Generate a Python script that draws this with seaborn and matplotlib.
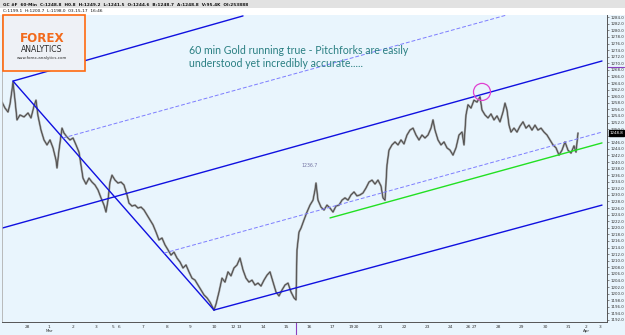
import matplotlib
matplotlib.use("Agg")
import matplotlib.pyplot as plt
from matplotlib.patches import Rectangle
import numpy as np
import pandas as pd
import seaborn as sns

# hourly gold closes (bar index ~ one per hour)
bars = [2, 5, 8, 10, 12, 13, 15, 17, 20, 24, 28, 31, 34, 36, 38, 41, 44, 47, 50, 53,
        56, 57, 59, 62, 64, 67, 70, 73, 76, 79, 81, 83, 86, 89, 92, 95, 98, 101, 104, 106,
        108, 110, 112, 115, 118, 121, 124, 127, 129, 132, 135, 138, 141, 144, 147, 150, 153, 156, 159, 162,
        165, 168, 171, 174, 177, 180, 183, 186, 189, 192, 195, 198, 201, 204, 207, 210, 212, 214, 216, 219,
        222, 225, 228, 231, 234, 237, 240, 243, 246, 249, 252, 255, 258, 261, 264, 267, 270, 273, 276, 279,
        282, 285, 288, 291, 294, 296, 297, 299, 301, 304, 307, 310, 313, 315, 316, 318, 321, 324, 327, 330,
        333, 336, 339, 342, 345, 348, 351, 354, 357, 360, 363, 366, 369, 372, 375, 378, 381, 383, 385, 387,
        389, 392, 395, 398, 401, 404, 407, 410, 413, 416, 419, 422, 425, 428, 431, 433, 435, 438, 441, 444,
        447, 450, 453, 456, 459, 462, 464, 466, 468, 471, 474, 477, 480, 482, 485, 488, 491, 494, 497, 500,
        503, 505, 507, 509, 511, 514, 517, 520, 523, 526, 529, 532, 535, 538, 541, 544, 547, 550, 553, 556,
        559, 562, 565, 568, 571, 574, 576, 578]
closes = [1258.2, 1256.4, 1255.2, 1257.6, 1261.9, 1264.3, 1258.8, 1252.8, 1254.3, 1253.7,
          1254.9, 1253.4, 1257.0, 1258.8, 1254.0, 1249.7, 1246.7, 1245.2, 1246.7, 1244.3,
          1240.6, 1238.2, 1243.6, 1250.3, 1248.8, 1247.6, 1246.7, 1247.3, 1245.2, 1243.0,
          1239.1, 1235.1, 1233.3, 1235.1, 1233.9, 1233.0, 1231.5, 1229.1, 1226.9, 1224.8,
          1228.4, 1233.9, 1236.0, 1234.5, 1233.6, 1233.9, 1233.0, 1230.0, 1227.5, 1226.6,
          1226.9, 1226.0, 1226.3, 1225.4, 1223.9, 1222.4, 1220.9, 1218.7, 1216.3, 1216.9,
          1214.8, 1213.3, 1211.7, 1212.6, 1210.8, 1209.6, 1207.8, 1208.7, 1206.6, 1204.7,
          1204.1, 1202.6, 1201.1, 1199.6, 1198.7, 1197.4, 1196.2, 1195.0, 1196.8, 1200.5,
          1204.7, 1203.5, 1206.6, 1205.4, 1207.8, 1208.7, 1210.8, 1207.2, 1204.7, 1203.5,
          1204.1, 1202.6, 1203.2, 1202.3, 1204.1, 1205.6, 1206.6, 1203.5, 1200.5, 1199.3,
          1201.1, 1202.6, 1203.2, 1200.5, 1198.7, 1198.1, 1213.3, 1218.7, 1219.9, 1222.4,
          1224.8, 1226.9, 1228.4, 1231.5, 1233.6, 1228.4, 1226.3, 1225.4, 1226.9, 1226.0,
          1224.8, 1226.6, 1226.9, 1228.4, 1229.1, 1228.4, 1230.0, 1230.9, 1229.7, 1230.0,
          1230.6, 1232.1, 1233.9, 1234.5, 1233.3, 1234.5, 1232.7, 1229.1, 1228.4, 1239.1,
          1243.6, 1245.2, 1246.1, 1245.2, 1246.7, 1245.5, 1248.2, 1249.7, 1250.3, 1248.2,
          1246.7, 1248.2, 1247.3, 1248.2, 1250.3, 1252.8, 1249.7, 1246.7, 1245.2, 1246.1,
          1244.3, 1243.6, 1242.1, 1244.3, 1248.2, 1249.1, 1245.2, 1254.3, 1257.4, 1256.4,
          1258.8, 1258.2, 1259.8, 1255.8, 1254.3, 1253.4, 1254.6, 1252.8, 1254.0, 1252.2,
          1255.2, 1257.9, 1255.8, 1251.2, 1249.1, 1250.3, 1249.1, 1250.9, 1252.2, 1250.3,
          1251.2, 1249.7, 1251.2, 1249.7, 1250.3, 1249.1, 1248.2, 1246.7, 1245.2, 1244.3,
          1242.1, 1243.6, 1246.1, 1243.6, 1242.7, 1244.9, 1243.0, 1248.8]

# pitchfork + trend lines: (bar0, price0, bar1, price1)
handle = (13, 1264.6, 214, 1195.0)
upper_tine = (13, 1264.6, 243, 1284.4)
median_tine = (2, 1219.9, 602, 1270.7)
lower_tine = (214, 1195.0, 602, 1226.9)
quarter_hi = (63, 1247.3, 507, 1284.7)
quarter_lo = (164, 1212.3, 602, 1249.1)
green_line = (330, 1223.0, 602, 1245.8)
circle_pt = (482, 1261.3)

day_ticks = [27, 49, 73, 96, 113, 119, 143, 167, 190, 214, 233, 239, 263, 286, 309,
             332, 351, 356, 380, 404, 427, 450, 468, 474, 498, 521, 545, 568, 586, 600]
day_labels = ['28', '1', '2', '3', '5', '6', '7', '8', '9', '10', '12', '13', '14', '15', '16',
              '17', '19', '20', '21', '22', '23', '24', '26', '27', '28', '29', '30', '31', '2', '3']
price_ticks = np.arange(1192, 1285, 2)
last_price = 1248.8

W, H = 625, 335
bg = '#e9f5fd'
sns.set_style('white')
plt.rcParams['font.family'] = ['DejaVu Sans']

fig = plt.figure(figsize=(W / 100, H / 100), dpi=100, facecolor=bg)
ax = fig.add_axes([2 / W, 13 / H, 605 / W, 307 / H])
ax.set_facecolor(bg)

df = pd.DataFrame({'bar': bars, 'close': closes})
sns.lineplot(data=df, x='bar', y='close', ax=ax, color='#999999', lw=1.5,
             sort=False, estimator=None)
sns.lineplot(data=df, x='bar', y='close', ax=ax, color='#333333', lw=0.45,
             sort=False, estimator=None)

def seg(line, **kw):
    ax.plot([line[0], line[2]], [line[1], line[3]], **kw)

blue = '#1010e0'
for ln in (handle, upper_tine, median_tine, lower_tine):
    seg(ln, color=blue, lw=1.0)
for ln in (quarter_hi, quarter_lo):
    seg(ln, color='#7d7dff', lw=0.7, dashes=(4, 2))
seg(green_line, color='#22e022', lw=1.0)
ax.scatter([circle_pt[0]], [circle_pt[1]], s=150, facecolors='none',
           edgecolors='#e040d0', linewidths=0.9, zorder=5)

ax.text(301, 1238.6, '1236.7', fontsize=3.3, color='#7070a0')

ax.set_xlim(2, 607)
ax.set_ylim(1191.37, 1284.68)
ax.set_xlabel('')
ax.set_ylabel('')

ax.yaxis.tick_right()
ax.set_yticks(price_ticks)
# 1248.0 sits under the last-price box
ax.set_yticklabels(['' if p == 1248 else '%.1f' % p for p in price_ticks])
ax.tick_params(axis='y', labelsize=2.9, length=1.5, width=0.4, pad=0.8, colors='#333333')
ax.set_xticks(day_ticks)
ax.set_xticklabels(day_labels)
ax.tick_params(axis='x', labelsize=3.1, length=1.5, width=0.4, pad=0.6, colors='#333333')

ax.spines['top'].set_visible(False)
ax.spines['left'].set_color('#b0b0b0')
ax.spines['left'].set_linewidth(0.6)
for s in ['right', 'bottom']:
    ax.spines[s].set_color('#555555')
    ax.spines[s].set_linewidth(0.7)

# month labels under the first day of each month
for xm, mon in [(49, 'Mar'), (586, 'Apr')]:
    ax.text(xm, -0.030, mon, transform=ax.get_xaxis_transform(), fontsize=2.9,
            color='#333333', ha='center', va='center')

# cursor marker on the time axis, alert line on price axis
ax.plot([296, 296], [0, -0.042], transform=ax.get_xaxis_transform(), color='#8a40c0',
        lw=0.8, clip_on=False)
ax.plot([1.0, 1.028], [1268.9, 1268.9], transform=ax.get_yaxis_transform(),
        color='#8a40c0', lw=0.8, clip_on=False)

# last price box
ax.text(1.004, last_price, '%.1f' % last_price, transform=ax.get_yaxis_transform(),
        fontsize=2.9, color='white', va='center', ha='left',
        bbox=dict(boxstyle='square,pad=0.2', fc='black', ec='black'))

# header rows
fig.patches.append(Rectangle((0, 1 - 8 / H), 1, 8 / H, transform=fig.transFigure,
                             fc='#e2e2e2', ec='none'))
fig.patches.append(Rectangle((0, 1 - 15 / H), 1, 7 / H, transform=fig.transFigure,
                             fc='white', ec='none'))
fig.text(3 / W, 1 - 4.5 / H, 'GC #F  60-Min  C:1248.8  H0.8  H:1249.2  L:1241.5  O:1244.6  '
         'B:1248.7  A:1248.8  V:95.4K  OI:253888', fontsize=3.1, fontweight='bold',
         color='#111111', va='center')
fig.text(3 / W, 1 - 11.5 / H, 'C:1199.1  H:1200.7  L:1198.0  03-15-17  16:46',
         fontsize=3.1, color='#111111', va='center')

# logo box
fig.patches.append(Rectangle((3 / W, 1 - 71 / H), 82 / W, 56 / H, transform=fig.transFigure,
                             fc='#eef1f6', ec='#ff6a10', lw=1.2, zorder=3))
fig.text(42 / W, 1 - 39 / H, 'FOREX', fontsize=8.6, fontweight='bold', color='#f26a1b',
         ha='center', va='center', zorder=4)
fig.text(42 / W, 1 - 50 / H, 'ANALYTICS', fontsize=5.6, color='#2a2a2a',
         ha='center', va='center', zorder=4)
fig.text(42 / W, 1 - 58.5 / H, 'www.forex-analytics.com', fontsize=2.9, color='#2a2a2a',
         ha='center', va='center', zorder=4)

fig.text(189 / W, 1 - 57 / H, '60 min Gold running true - Pitchforks are easily\n'
         'understood yet incredibly accurate.....', fontsize=7.6, color='#2a7f82',
         family=['Lato', 'DejaVu Sans'], va='center', linespacing=1.25)

fig.savefig('out.png', dpi=100, facecolor=bg)
